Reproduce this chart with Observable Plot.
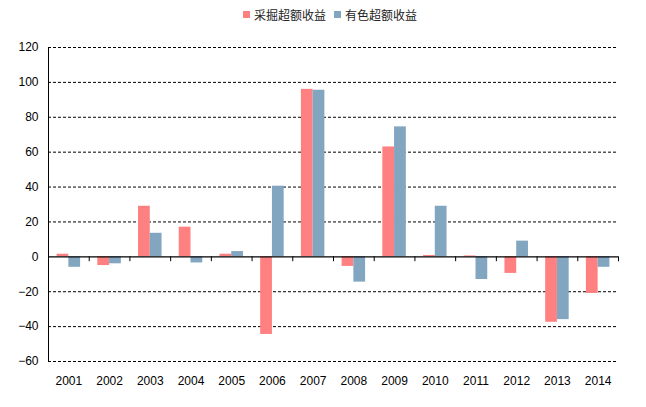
<!DOCTYPE html>
<html>
<head>
<meta charset="utf-8">
<script src="https://cdn.jsdelivr.net/npm/d3@7"></script>
<script src="https://cdn.jsdelivr.net/npm/@observablehq/plot@0.6"></script>
<style>
  body { margin: 0; background: #fff; font-family: "Liberation Sans", Arial, "Noto Sans CJK SC", sans-serif; }
  #legend { height: 28px; display: flex; justify-content: center; align-items: center; font-size: 12px; color: #222; padding-left: 14px; box-sizing: border-box; font-family: "Noto Sans CJK SC", sans-serif; }
  .item { display: flex; align-items: center; margin: 0 4px; }
  .sw { width: 7px; height: 7px; margin-right: 4px; }
</style>
</head>
<body>
<div id="legend"></div>
<div id="chart"></div>
<script>
const years = ["2001","2002","2003","2004","2005","2006","2007","2008","2009","2010","2011","2012","2013","2014"];
const caijue = [1.5, -5, 29, 17, 1.5, -44.5, 96, -5.5, 63, 0.8, 0.5, -9.5, -37.5, -21];
const youse = [-6, -4, 13.5, -3.5, 3, 40.5, 95.5, -14.5, 74.5, 29, -13, 9, -36, -6];
const seriesNames = ["采掘超额收益", "有色超额收益"];
const colors = ["#ff8080", "#82a6c0"];
const yTicks = [-60, -40, -20, 0, 20, 40, 60, 80, 100, 120];

const W = 646, H = 379, mL = 48, mR = 28, mT = 19, mB = 46;
const bw = (W - mL - mR) / years.length;
const barW = 11.75;

const rows1 = years.map((y, i) => ({year: y, value: caijue[i]}));
const rows2 = years.map((y, i) => ({year: y, value: youse[i]}));

const legend = document.getElementById("legend");
seriesNames.forEach((n, i) => {
  const it = document.createElement("div");
  it.className = "item";
  it.innerHTML = `<div class="sw" style="background:${colors[i]}"></div><span>${n}</span>`;
  legend.appendChild(it);
});

const chart = Plot.plot({
  width: W, height: H,
  marginLeft: mL, marginRight: mR, marginTop: mT, marginBottom: mB,
  style: {fontFamily: '"Liberation Sans", Arial, sans-serif', fontSize: "12px", color: "#000", background: "#fff"},
  x: {domain: years, padding: 0, round: false},
  y: {domain: [-60, 120]},
  marks: [
    Plot.ruleY(yTicks.filter(d => d !== 0), {y: d => d, stroke: "#000", strokeWidth: 1, strokeDasharray: "3,2"}),
    Plot.barY(rows1, {x: "year", y: "value", fill: colors[0], insetLeft: bw / 2 - barW, insetRight: bw / 2}),
    Plot.barY(rows2, {x: "year", y: "value", fill: colors[1], insetLeft: bw / 2, insetRight: bw / 2 - barW}),
    Plot.ruleY([0], {stroke: "#000", strokeWidth: 1.2}),
    Plot.ruleX(years.slice(1), {x: d => d, y1: 0, y2: -2.8, dx: -bw / 2, stroke: "#000"}),
    Plot.ruleX(years.slice(-1), {x: d => d, y1: 0, y2: -2.8, dx: bw / 2, stroke: "#000"}),
    Plot.ruleX([years[0]], {x: d => d, y1: -60, y2: 120, dx: -bw / 2, stroke: "#000"}),
    Plot.axisY({ticks: yTicks, tickSize: 0, tickPadding: 10, label: null}),
    Plot.axisX({tickSize: 0, tickPadding: 15, label: null})
  ]
});
document.getElementById("chart").appendChild(chart);
</script>
</body>
</html>
